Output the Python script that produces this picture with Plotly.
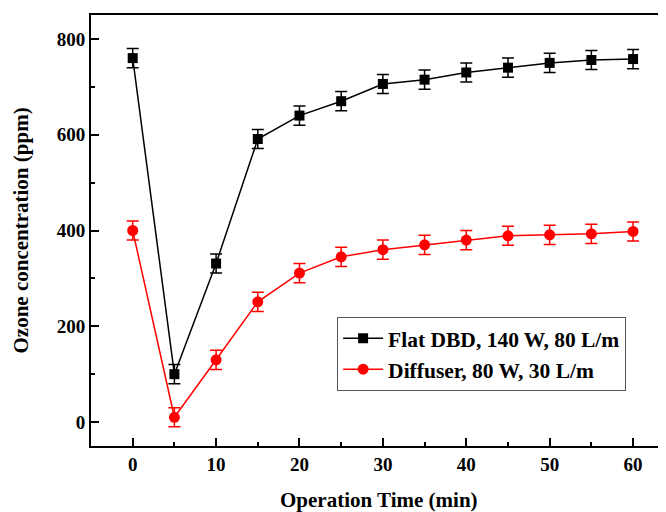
import plotly.graph_objects as go

time_min = [0, 5, 10, 15, 20, 25, 30, 35, 40, 45, 50, 55, 60]
flat_dbd = [760, 100, 331, 591, 640, 670, 706, 715, 730, 740, 750, 756, 758]
flat_err = [20, 20, 20, 20, 20, 20, 20, 20, 20, 20, 20, 20, 20]
diffuser = [400, 10, 130, 251, 311, 345, 360, 370, 380, 389, 391, 393, 398]
diff_err = [20, 20, 20, 20, 20, 20, 20, 20, 20, 20, 20, 20, 20]
x_ticks = [0, 10, 20, 30, 40, 50, 60]
y_ticks = [0, 200, 400, 600, 800]

font_family = "Liberation Serif"

fig = go.Figure()
fig.add_trace(go.Scatter(
    x=time_min, y=flat_dbd, mode="lines+markers",
    name="<b>Flat DBD, 140 W, 80 L/m</b>",
    line=dict(color="black", width=1.5),
    marker=dict(symbol="square", size=10, color="black"),
    error_y=dict(type="data", array=flat_err, color="black", thickness=1.5, width=6),
))
fig.add_trace(go.Scatter(
    x=time_min, y=diffuser, mode="lines+markers",
    name="<b>Diffuser, 80 W, 30 L/m</b>",
    line=dict(color="red", width=1.5),
    marker=dict(symbol="circle", size=11, color="red"),
    error_y=dict(type="data", array=diff_err, color="red", thickness=1.5, width=6),
))

# page body has an 8px default margin, so the figure is shifted by 8px
fig.update_layout(
    width=658, height=504,
    margin=dict(l=83, r=0, t=7, b=66),
    paper_bgcolor="white", plot_bgcolor="white",
    font=dict(family=font_family, color="black", size=16),
    showlegend=True,
    legend=dict(
        x=0.428, y=0.300, xanchor="left", yanchor="top",
        bordercolor="#555555", borderwidth=1, bgcolor="white",
        font=dict(family=font_family, size=21.5, color="black"),
        tracegroupgap=0, itemwidth=40,
    ),
    annotations=[
        dict(text="<b>Operation Time (min)</b>", xref="paper", yref="paper",
             x=0.5, y=0, yshift=-54, xanchor="center", yanchor="middle",
             showarrow=False, font=dict(size=21, family=font_family)),
        dict(text="<b>Ozone concentration (ppm)</b>", xref="paper", yref="paper",
             x=0, y=0.5, xshift=-71, xanchor="center", yanchor="middle", textangle=-90,
             showarrow=False, font=dict(size=21, family=font_family)),
    ],
)
fig.update_xaxes(
    range=[-5, 63.95], automargin=False,
    tickmode="array", tickvals=x_ticks,
    ticktext=["<b>%d</b>" % v for v in x_ticks],
    ticks="inside", ticklen=8, tickwidth=1.5, tickcolor="black",
    minor=dict(tickmode="array", tickvals=[5, 15, 25, 35, 45, 55], ticks="inside", ticklen=4, tickwidth=1.5, tickcolor="black"),
    showline=True, linecolor="black", linewidth=2, mirror=True,
    showgrid=False, zeroline=False,
    tickfont=dict(size=19, family=font_family),
)
fig.update_yaxes(
    range=[-50, 850], automargin=False,
    tickmode="array", tickvals=y_ticks,
    ticktext=["<b>%d</b>" % v for v in y_ticks],
    ticks="inside", ticklen=8, tickwidth=1.5, tickcolor="black",
    minor=dict(tickmode="array", tickvals=[100, 300, 500, 700], ticks="inside", ticklen=4, tickwidth=1.5, tickcolor="black"),
    showline=True, linecolor="black", linewidth=2, mirror=False,
    showgrid=False, zeroline=False,
    tickfont=dict(size=19, family=font_family),
)

fig.write_html("out.html")
